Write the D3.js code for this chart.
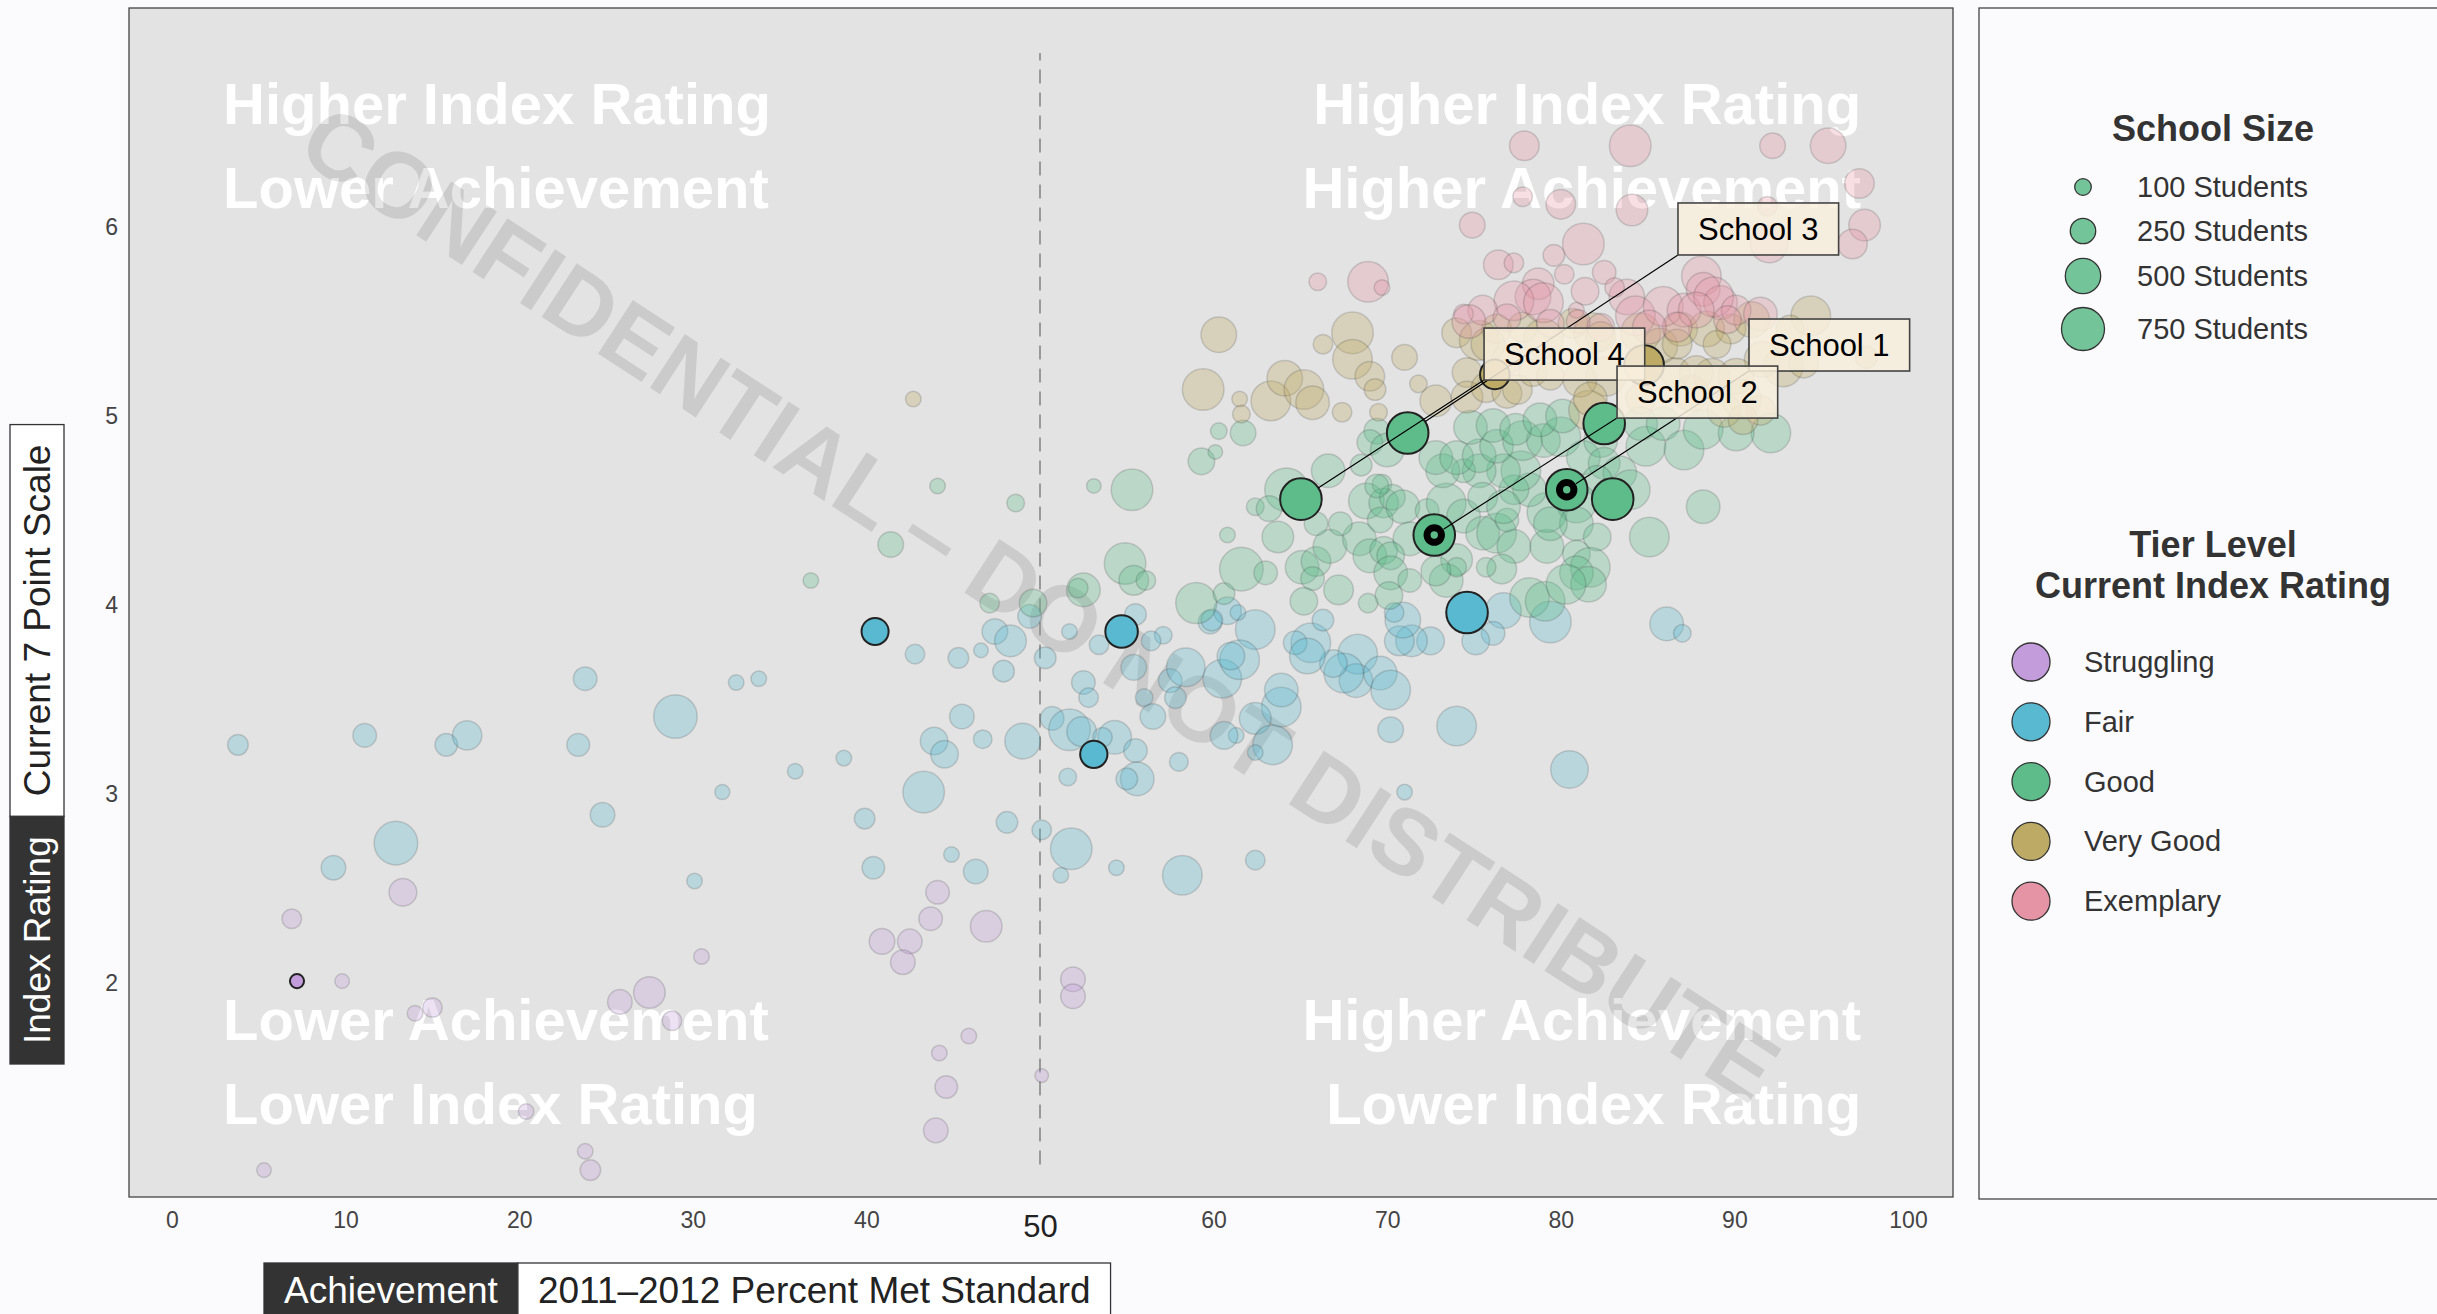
<!DOCTYPE html>
<html lang="en">
<head>
<meta charset="utf-8">
<title>Index Rating vs Achievement</title>
<style>
  body { margin: 0; background: #fbfbfd; }
  svg { display: block; font-family: "Liberation Sans", Arial, sans-serif; }
  .quad { fill: #fff; font-weight: bold; font-size: 58px; }
  .legend-title { fill: #333; font-weight: bold; font-size: 36px; }
  .legend-text { fill: #333; font-size: 29px; }
  .school-label { fill: #000; font-size: 31px; }
</style>
</head>
<body>
<div id="chart"></div>
<script src="https://d3js.org/d3.v7.min.js"></script>
<script>
// [percent met standard, index rating, students]
var struggling = [
  [9.8,2.01,75],[6.9,2.34,143],[13.3,2.48,300],[14.0,1.84,87],[15.0,1.87,143],[25.8,1.90,233],
  [27.5,1.95,395],[28.8,1.80,143],[30.5,2.14,87],[20.4,1.32,87],[23.8,1.11,87],[24.1,1.01,160],
  [5.3,1.01,75],[44.1,2.48,213],[43.7,2.34,213],[46.9,2.30,395],[40.9,2.22,254],[42.5,2.22,233],
  [42.1,2.11,233],[45.9,1.72,87],[44.2,1.63,87],[44.6,1.45,195],[50.1,1.51,64],[44.0,1.22,233],
  [51.9,2.02,233],[51.9,1.93,233]
];
var fair = [
  [3.8,3.26,160],[11.1,3.31,213],[15.8,3.26,195],[17.0,3.31,340],[23.8,3.61,213],[23.4,3.26,200],
  [29.0,3.41,770],[32.5,3.59,87],[33.8,3.61,87],[35.9,3.12,87],[31.7,3.01,80],[24.8,2.89,233],
  [38.7,3.19,87],[12.9,2.74,770],[9.3,2.61,233],[30.1,2.54,87],[43.3,3.01,700],[39.9,2.87,160],
  [40.4,2.61,195],[44.9,2.68,87],[46.3,2.59,233],[48.1,2.85,177],[50.1,2.81,143],[51.8,2.71,700],
  [51.2,2.57,87],[51.6,3.09,114],[45.5,3.41,233],[43.9,3.28,297],[44.5,3.21,297],[46.7,3.29,128],
  [49.0,3.28,507],[50.7,3.40,213],[51.7,3.34,700],
  [42.8,3.74,143],[45.3,3.72,160],[46.6,3.76,75],[47.4,3.86,254],[48.3,3.81,395],[47.9,3.65,177],
  [49.4,3.94,213],[50.3,3.72,177],[51.7,3.86,87],[53.4,3.79,143],[55.5,3.95,177],[57.1,3.84,114],
  [56.4,3.81,143],[55.4,3.67,254],[52.5,3.59,213],[52.8,3.51,143],[56.0,3.51,114],[56.5,3.41,254],
  [57.5,3.60,213],[58.4,3.67,600],[57.8,3.51,177],[60.5,3.61,600],[59.8,3.91,213],[58.0,3.17,130],
  [54.3,3.30,449],[55.5,3.23,213],[55.6,3.08,449],[55.0,3.08,177],[52.4,3.33,345],[53.6,3.30,143],
  [60.8,3.97,297],[59.9,3.92,177],[70.2,3.34,254],[74.0,3.36,633],[80.5,3.13,568],[71.0,3.01,87],
  [62.4,2.65,143],[58.2,2.57,633],[63.9,3.46,633],[62.4,3.40,400],[63.4,3.26,633],[61.3,3.31,87],
  [60.6,3.31,297],[62.4,3.22,87],[54.4,2.61,87],
  [86.1,3.90,449],[87.0,3.85,114],[76.7,3.97,507],[79.4,3.91,700],[76.1,3.85,213],[75.1,3.81,297],
  [72.5,3.81,297],[71.4,3.81,395],[70.7,3.81,345],[70.9,3.92,507],[70.4,3.96,143],[68.3,3.74,633],
  [68.2,3.60,449],[69.6,3.64,449],[70.2,3.55,633],[67.5,3.64,633],[66.9,3.69,297],[65.6,3.80,633],
  [64.7,3.80,213],[65.4,3.73,507],[66.3,3.92,177],[62.4,3.87,633],[61.4,3.96,87],[61.5,3.71,633],
  [61.0,3.73,297],[63.9,3.55,449]
];
var good = [
  [41.4,4.32,254],[36.8,4.13,87],[44.1,4.63,87],[47.1,4.01,143],
  [53.1,4.63,75],[55.3,4.61,700],[48.6,4.54,114],[60.3,4.92,100],[59.3,4.76,275],[60.1,4.81,75],
  [60.8,4.37,87],[54.9,4.22,700],[55.4,4.13,345],[56.1,4.13,143],[52.5,4.08,449],[52.2,4.09,143],
  [59.0,4.01,680],[60.6,4.06,177],[49.6,4.01,297],
  [61.7,4.91,254],[69.4,4.92,254],[69.0,4.86,254],[70.0,4.82,449],[66.6,4.71,449],[68.5,4.74,177],
  [64.2,4.61,772],[62.4,4.52,114],[63.2,4.51,254],[63.7,4.36,395],[61.6,4.19,772],[63.0,4.17,213],
  [65.1,4.20,449],[65.9,4.23,345],[67.2,4.08,345],[65.7,4.14,213],[66.7,4.31,449],[68.4,4.35,449],
  [69.0,4.26,449],[69.8,4.29,297],[68.8,4.55,507],[69.8,4.54,345],[69.7,4.64,143],[70.3,4.57,254],
  [69.6,4.45,254],[70.9,4.52,449],[71.3,4.35,449],[70.2,4.26,297],[70.2,4.17,449],[70.1,4.05,297],
  [68.9,4.01,143],[65.2,4.02,297],[71.3,4.13,213],[72.3,4.50,213],[73.4,4.54,633],[74.4,4.47,449],
  [74.0,4.24,395],[73.4,4.13,449],[74.0,4.20,143],[75.5,4.38,449],[76.3,4.38,633],[77.3,4.31,449],
  [76.6,4.19,345],[75.7,4.20,143],[76.9,4.45,213],[78.2,4.04,633],[79.1,4.02,633],[79.2,4.31,449],
  [79.2,4.49,633],[78.2,4.61,449],[77.3,4.61,345],[77.7,4.71,633],[76.7,4.71,449],[75.3,4.71,449],
  [74.4,4.71,213],[73.2,4.71,449],[72.8,4.78,449],[74.0,4.78,449],[75.3,4.79,449],[76.3,4.84,449],
  [77.8,4.87,633],[79.0,4.87,449],[80.0,4.89,633],[74.8,4.94,449],[76.1,4.95,449],[77.4,4.93,395],
  [78.8,4.98,449],[80.1,5.00,449],[81.3,4.78,449],[82.3,4.87,449],[82.5,4.75,395],[83.4,4.70,449],
  [84.0,4.61,633],[82.1,4.66,345],[84.9,4.84,633],[84.6,4.96,449],[85.9,4.96,449],[87.1,4.82,633],
  [88.2,4.93,633],[88.2,4.52,449],[80.9,4.54,633],[80.9,4.43,449],[79.4,4.43,449],[82.1,4.36,297],
  [80.9,4.27,297],[81.7,4.20,633],[80.9,4.17,449],[81.6,4.11,507],[85.1,4.36,633],[80.3,4.11,633],
  [69.4,4.63,213],[75.5,4.57,345],[76.7,4.52,449],[72.5,4.38,345],[72.8,4.18,345],[65.9,4.43,213],
  [67.3,4.43,213],[92.1,4.91,633],[90.1,4.91,507]
];
var veryGood = [
  [42.7,5.09,87],
  [60.3,5.43,507],[59.4,5.14,700],[61.5,5.09,87],[61.6,5.01,114],[63.3,5.08,633],[64.1,5.20,507],
  [65.2,5.14,633],[65.7,5.07,449],[66.3,5.38,143],[68.0,5.44,700],[68.0,5.30,633],[69.0,5.21,345],
  [69.3,5.14,177],[67.4,5.02,143],[71.0,5.31,254],[71.8,5.17,114],[74.6,5.23,345],[72.8,5.08,395],
  [74.6,5.10,395],[75.7,5.15,345],[76.9,5.12,345],[74.0,5.44,345],[75.3,5.40,633],[76.3,5.46,345],
  [76.9,5.30,345],[79.0,5.41,633],[80.7,5.49,345],[81.9,5.44,633],[84.6,5.44,633],[85.7,5.37,507],
  [86.9,5.46,449],[88.4,5.46,507],[89.8,5.46,345],[91.0,5.51,507],[94.4,5.53,633],[93.2,5.46,297],
  [92.8,5.26,633],[91.6,5.30,507],[97.6,5.31,177],[82.6,5.21,633],[88.7,5.21,507],[86.6,5.23,345],
  [90.1,5.21,507],[87.5,5.12,507],[90.4,5.09,633],[81.6,5.03,633],[84.6,5.09,345],[69.5,5.02,114],
  [75.8,5.38,449],[77.8,5.47,345],[82.3,5.42,345],[86.7,5.38,345],[89.0,5.38,297],[94.0,5.28,345],
  [91.5,5.03,345],[77.5,5.14,345],[78.4,5.23,297],[79.4,5.21,297],[81.1,5.19,449],[81.7,5.09,449],
  [87.8,5.23,449],[89.4,5.03,449],[90.5,4.98,345]
];
var exemplary = [
  [77.9,6.43,345],[84.0,6.43,700],[92.2,6.43,254],[95.4,6.43,507],[97.2,6.23,345],[97.5,6.01,395],
  [96.8,5.91,345],[92.0,5.91,568],[74.9,6.01,254],[77.8,6.16,143],[80.0,6.12,345],[84.1,6.09,395],
  [81.3,5.91,700],[79.6,5.85,177],[76.4,5.80,345],[77.3,5.81,143],[78.7,5.70,395],[80.2,5.75,143],
  [81.4,5.66,297],[82.5,5.76,213],[78.4,5.63,507],[77.3,5.61,633],[79.0,5.60,633],[80.9,5.56,87],
  [75.5,5.56,345],[74.4,5.54,143],[83.8,5.63,507],[84.3,5.53,633],[85.9,5.58,633],[87.1,5.56,449],
  [88.1,5.74,633],[88.2,5.67,449],[89.2,5.60,449],[88.8,5.63,633],[87.8,5.56,507],[90.1,5.56,345],
  [91.5,5.54,449],[89.6,5.51,297],[86.7,5.47,345],[85.1,5.47,449],[82.3,5.47,297],[76.9,5.52,297],
  [79.4,5.49,297],[68.9,5.71,666],[69.7,5.68,87],[66.0,5.71,114],[74.7,5.50,449],[91.9,6.11,143],
  [83.1,5.68,143],[81.0,5.50,213]
];
// highlighted schools: [percent, index, students, tier]
var highlight = [
  [7.2,2.01,70,0],
  [40.5,3.86,285,1],[54.7,3.86,420,1],[53.1,3.21,290,1],[74.6,3.96,700,1],
  [65.03,4.56,700,2],[71.18,4.91,700,2],[80.34,4.61,700,2],[72.71,4.37,700,2],[82.5,4.96,700,2],[82.99,4.56,700,2],
  [76.2,5.22,345,3],[84.8,5.27,633,3]
];

var tiers = ['Struggling', 'Fair', 'Good', 'Very Good', 'Exemplary'];
var tierColors = ['#c39cdc', '#58b9d1', '#5ebc8b', '#bcaa65', '#e494a4'];
var sizeBreaks = [100, 250, 500, 750];

var schoolNames = ['School 1', 'School 2', 'School 3', 'School 4'];
var schoolPct = [80.34, 72.71, 71.18, 65.03];
var schoolIndex = [4.61, 4.37, 4.91, 4.56];
var schoolRing = [true, true, false, false];
var labelPct = [90.84, 83.24, 86.75, 75.58];    // lower-left corner of label box
var labelIndex = [5.238, 4.989, 5.852, 5.19];

var xTicks = [0, 10, 20, 30, 40, 50, 60, 70, 80, 90, 100];
var yTicks = [2, 3, 4, 5, 6];
var cutoff = 50;

var quadLines = [
  ['Higher Index Rating', 2.94, 6.545, 'start'],
  ['Lower Achievement', 2.94, 6.10, 'start'],
  ['Higher Index Rating', 97.3, 6.545, 'end'],
  ['Higher Achievement', 97.3, 6.10, 'end'],
  ['Lower Achievement', 2.94, 1.70, 'start'],
  ['Lower Index Rating', 2.94, 1.256, 'start'],
  ['Higher Achievement', 97.3, 1.70, 'end'],
  ['Lower Index Rating', 97.3, 1.256, 'end']
];

var width = 2437, height = 1314;
var panel = {left: 129, top: 8, right: 1953, bottom: 1197};

var x = d3.scaleLinear().domain([0, 100]).range([172, 1908]);
var y = d3.scaleLinear().domain([2, 6]).range([983, 227]);
var r = d3.scalePow().exponent(0.5).domain([100, 750]).range([8.3, 21.5]);
var color = d3.scaleOrdinal().domain(d3.range(5)).range(tierColors);

var svg = d3.select('#chart').append('svg')
    .attr('width', width)
    .attr('height', height);

svg.append('rect')
    .attr('x', panel.left).attr('y', panel.top)
    .attr('width', panel.right - panel.left)
    .attr('height', panel.bottom - panel.top)
    .attr('fill', '#e3e3e3')
    .attr('stroke', '#444')
    .attr('stroke-width', 1.3);

// quadrant captions
svg.append('g').selectAll('text')
    .data(quadLines)
    .enter().append('text')
    .attr('class', 'quad')
    .attr('x', function(d) { return x(d[1]); })
    .attr('y', function(d) { return y(d[2]); })
    .attr('text-anchor', function(d) { return d[3]; })
    .text(function(d) { return d[0]; });

// watermark along the panel diagonal
var pw = panel.right - panel.left, ph = panel.bottom - panel.top;
svg.append('text')
    .attr('transform', 'translate(' + (panel.left + pw / 2) + ',' + (panel.top + ph / 2) + ') rotate(' + (Math.atan2(ph, pw) * 180 / Math.PI) + ')')
    .attr('text-anchor', 'middle')
    .attr('dy', '0.36em')
    .attr('fill', '#000')
    .attr('fill-opacity', 0.1)
    .style('font-size', '93px')
    .style('font-weight', 'bold')
    .text('CONFIDENTIAL \u2013 DO NOT DISTRIBUTE');

svg.append('line')
    .attr('x1', x(cutoff)).attr('x2', x(cutoff))
    .attr('y1', y(1.04)).attr('y2', y(6.92))
    .attr('stroke', '#999')
    .attr('stroke-width', 2)
    .attr('stroke-dasharray', '14,9');

// all schools, faded
var all = [];
[struggling, fair, good, veryGood, exemplary].forEach(function(arr, t) {
  arr.forEach(function(d) { all.push({pct: d[0], idx: d[1], n: d[2], tier: t}); });
});

svg.append('g').selectAll('circle')
    .data(all)
    .enter().append('circle')
    .attr('cx', function(d) { return x(d.pct); })
    .attr('cy', function(d) { return y(d.idx); })
    .attr('r', function(d) { return r(d.n); })
    .attr('fill', function(d) { return color(d.tier); })
    .attr('fill-opacity', 0.3)
    .attr('stroke', '#333')
    .attr('stroke-opacity', 0.18)
    .attr('stroke-width', 1.5);

svg.append('g').selectAll('circle')
    .data(highlight)
    .enter().append('circle')
    .attr('cx', function(d) { return x(d[0]); })
    .attr('cy', function(d) { return y(d[1]); })
    .attr('r', function(d) { return r(d[2]); })
    .attr('fill', function(d) { return color(d[3]); })
    .attr('stroke', '#222')
    .attr('stroke-width', 2);

// rings on the labelled schools
svg.append('g').selectAll('circle')
    .data(d3.range(schoolNames.length).filter(function(i) { return schoolRing[i]; }))
    .enter().append('circle')
    .attr('cx', function(i) { return x(schoolPct[i]); })
    .attr('cy', function(i) { return y(schoolIndex[i]); })
    .attr('r', 7.2)
    .attr('fill', color(2))
    .attr('stroke', '#000')
    .attr('stroke-width', 7);

// label segments and boxes
var lab = svg.append('g');
d3.range(schoolNames.length).forEach(function(i) {
  var px = x(schoolPct[i]), py = y(schoolIndex[i]);
  var bx = x(labelPct[i]), by = y(labelIndex[i]);
  var len = Math.hypot(bx - px, by - py);
  var pad = schoolRing[i] ? 11 : 21;
  lab.append('line')
      .attr('x1', px + (bx - px) * pad / len)
      .attr('y1', py + (by - py) * pad / len)
      .attr('x2', bx).attr('y2', by)
      .attr('stroke', '#000')
      .attr('stroke-width', 1.2);
});
[3, 2, 0, 1].forEach(function(i) {
  var bx = x(labelPct[i]), by = y(labelIndex[i]);
  var g = lab.append('g');
  var rect = g.append('rect');
  var t = g.append('text')
      .attr('class', 'school-label')
      .attr('x', bx + 20)
      .attr('y', by - 26 + 11)
      .text(schoolNames[i]);
  var tw = t.node().getComputedTextLength();
  rect.attr('x', bx).attr('y', by - 52)
      .attr('width', tw + 40).attr('height', 52)
      .attr('fill', '#f8efdd')
      .attr('fill-opacity', 0.85)
      .attr('stroke', '#444')
      .attr('stroke-width', 1.6);
});

// axes
var xAxis = svg.append('g')
    .attr('transform', 'translate(0,' + panel.bottom + ')')
    .call(d3.axisBottom(x).tickValues(xTicks).tickSize(0).tickPadding(15).tickFormat(d3.format('d')));
xAxis.select('.domain').remove();
xAxis.selectAll('text')
    .style('font-size', function(d) { return d === cutoff ? '31px' : '23px'; })
    .attr('dy', function(d) { return d === cutoff ? '0.82em' : '0.71em'; })
    .attr('fill', function(d) { return d === cutoff ? '#222' : '#444'; });

var yAxis = svg.append('g')
    .attr('transform', 'translate(' + panel.left + ',0)')
    .call(d3.axisLeft(y).tickValues(yTicks).tickSize(0).tickPadding(11).tickFormat(d3.format('d')));
yAxis.select('.domain').remove();
yAxis.selectAll('text').style('font-size', '23px').attr('fill', '#444');
xAxis.attr('font-family', null);
yAxis.attr('font-family', null);

// axis titles made of a dark and a light box
function titleBoxes(g, parts) {
  var off = 0;
  parts.forEach(function(p, k) {
    var rect = g.append('rect');
    var t = g.append('text')
        .attr('x', off + 20)
        .attr('y', 27 + 13)
        .style('font-size', '37px')
        .attr('fill', k === 0 ? '#fff' : '#222')
        .text(p);
    var w = t.node().getComputedTextLength() + 40;
    rect.attr('x', off).attr('y', 0).attr('width', w).attr('height', 54)
        .attr('fill', k === 0 ? '#333' : '#fff')
        .attr('stroke', '#333')
        .attr('stroke-width', 1.3);
    off += w;
  });
}
titleBoxes(svg.append('g').attr('transform', 'translate(264,1263)'),
    ['Achievement', '2011\u20132012 Percent Met Standard']);
titleBoxes(svg.append('g').attr('transform', 'translate(10,1064) rotate(-90)'),
    ['Index Rating', 'Current 7 Point Scale']);

// legend
var leg = svg.append('g');
leg.append('rect')
    .attr('x', 1979).attr('y', 8)
    .attr('width', 520).attr('height', 1191)
    .attr('fill', '#fbfbfd')
    .attr('stroke', '#444')
    .attr('stroke-width', 1.3);

leg.append('text').attr('class', 'legend-title')
    .attr('x', 2213).attr('y', 141).attr('text-anchor', 'middle')
    .text('School Size');

var sizeY = [187, 231, 276, 329];
var sk = leg.selectAll('.size-key').data(sizeBreaks).enter().append('g');
sk.append('circle')
    .attr('cx', 2083)
    .attr('cy', function(d, i) { return sizeY[i]; })
    .attr('r', function(d) { return r(d); })
    .attr('fill', '#74c49a')
    .attr('stroke', '#333')
    .attr('stroke-width', 1.3);
sk.append('text').attr('class', 'legend-text')
    .attr('x', 2137)
    .attr('y', function(d, i) { return sizeY[i] + 10; })
    .text(function(d) { return d + ' Students'; });

leg.append('text').attr('class', 'legend-title')
    .attr('x', 2213).attr('y', 557).attr('text-anchor', 'middle')
    .text('Tier Level');
leg.append('text').attr('class', 'legend-title')
    .attr('x', 2213).attr('y', 598).attr('text-anchor', 'middle')
    .text('Current Index Rating');

var tk = leg.selectAll('.tier-key').data(tiers).enter().append('g');
tk.append('circle')
    .attr('cx', 2031)
    .attr('cy', function(d, i) { return 662 + i * 59.8; })
    .attr('r', 19)
    .attr('fill', function(d, i) { return color(i); })
    .attr('stroke', '#333')
    .attr('stroke-width', 1.3);
tk.append('text').attr('class', 'legend-text')
    .attr('x', 2084)
    .attr('y', function(d, i) { return 662 + i * 59.8 + 10; })
    .text(function(d) { return d; });
</script>
</body>
</html>
